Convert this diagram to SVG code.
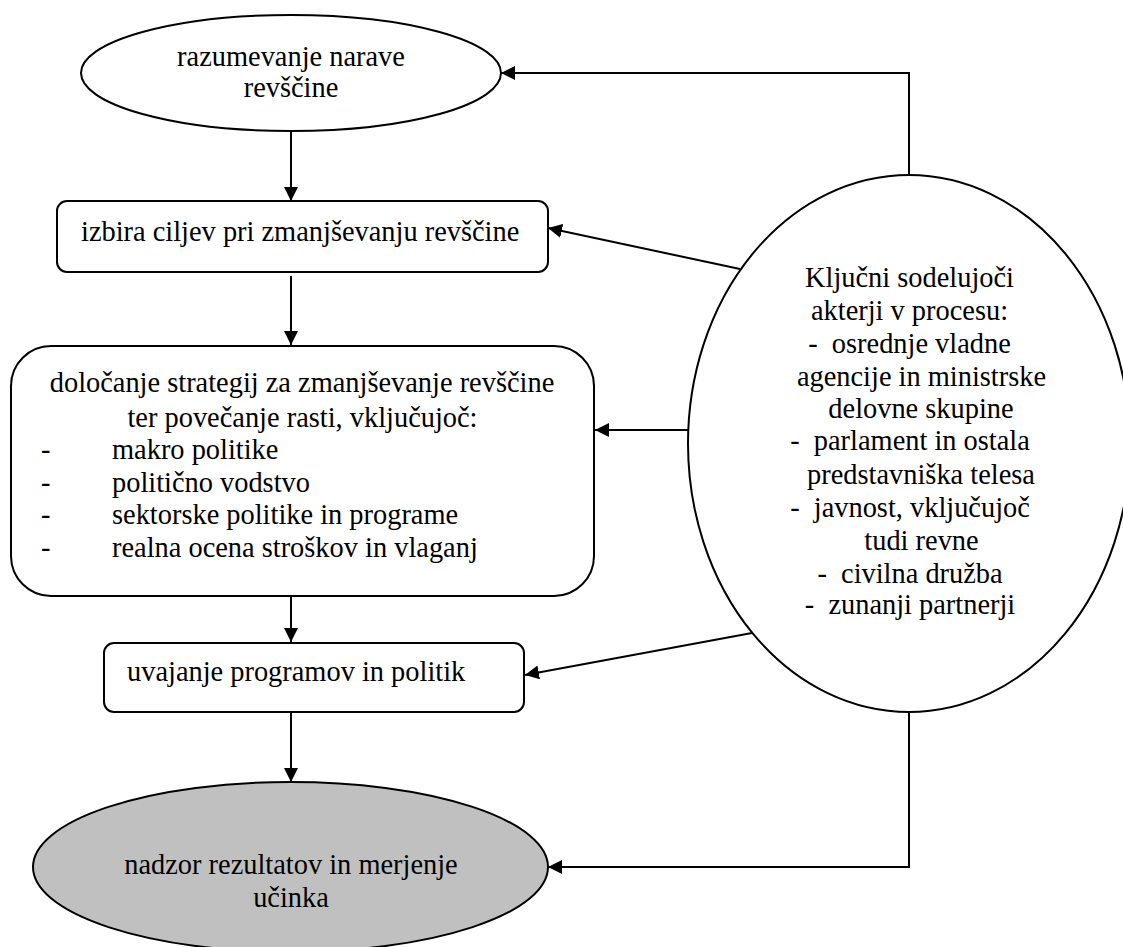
<svg xmlns="http://www.w3.org/2000/svg" width="1123" height="947" viewBox="0 0 1123 947">
<style>
  .shape { fill: #ffffff; stroke: #000000; stroke-width: 2; }
  .grey { fill: #c0c0c0; }
  .t { font-family: "Liberation Serif", "Times New Roman", serif; font-size: 28.4px; fill: #000000; }
  .c { text-anchor: middle; }
  .conn { fill: none; stroke: #000000; stroke-width: 2; marker-end: url(#arrow); }
</style>
<defs>
  <marker id="arrow" markerUnits="userSpaceOnUse" markerWidth="15" markerHeight="15" refX="14" refY="7" orient="auto">
    <path d="M0,0 L14,7 L0,14 Z" fill="#000000"/>
  </marker>
</defs>
<rect width="1123" height="947" fill="#ffffff"/>

<g id="node-razumevanje">
  <ellipse class="shape" cx="291" cy="73" rx="210" ry="58"/>
  <text class="t c" x="291" y="66">razumevanje narave</text>
  <text class="t c" x="291" y="97">revščine</text>
</g>

<g id="node-izbira">
  <rect class="shape" x="57" y="201" width="491" height="71" rx="10" ry="10"/>
  <text class="t" x="81" y="241">izbira ciljev pri zmanjševanju revščine</text>
</g>

<g id="node-dolocanje">
  <rect class="shape" x="11" y="346" width="583" height="250" rx="40" ry="40"/>
  <text class="t c" x="302" y="392">določanje strategij za zmanjševanje revščine</text>
  <text class="t c" x="302.5" y="427">ter povečanje rasti, vključujoč:</text>
  <text class="t" x="41" y="459">-</text>
  <text class="t" x="112" y="459">makro politike</text>
  <text class="t" x="41" y="492">-</text>
  <text class="t" x="112" y="492">politično vodstvo</text>
  <text class="t" x="41" y="524">-</text>
  <text class="t" x="112" y="524">sektorske politike in programe</text>
  <text class="t" x="41" y="557">-</text>
  <text class="t" x="112" y="557">realna ocena stroškov in vlaganj</text>
</g>

<g id="node-uvajanje">
  <rect class="shape" x="104" y="643" width="420" height="69" rx="10" ry="10"/>
  <text class="t" x="127" y="681">uvajanje programov in politik</text>
</g>

<g id="node-nadzor">
  <ellipse class="shape grey" cx="290.5" cy="867" rx="257.5" ry="85"/>
  <text class="t c" x="291" y="874">nadzor rezultatov in merjenje</text>
  <text class="t c" x="291" y="907">učinka</text>
</g>

<g id="node-akterji">
  <ellipse class="shape" cx="909" cy="443.5" rx="221" ry="268.5"/>
  <text class="t c" x="909.5" y="287">Ključni sodelujoči</text>
  <text class="t c" x="909.5" y="320">akterji v procesu:</text>
  <text class="t c" x="909.5" y="353" xml:space="preserve">-  osrednje vladne</text>
  <text class="t c" x="921.5" y="386">agencije in ministrske</text>
  <text class="t c" x="921" y="418">delovne skupine</text>
  <text class="t c" x="910" y="450" xml:space="preserve">-  parlament in ostala</text>
  <text class="t c" x="921" y="484">predstavniška telesa</text>
  <text class="t c" x="910" y="517" xml:space="preserve">-  javnost, vključujoč</text>
  <text class="t c" x="921.5" y="550">tudi revne</text>
  <text class="t c" x="910" y="583" xml:space="preserve">-  civilna družba</text>
  <text class="t c" x="910" y="614" xml:space="preserve">-  zunanji partnerji</text>
</g>

<g id="connectors">
  <path class="conn" d="M291,131 V201"/>
  <path class="conn" d="M291,276 V345"/>
  <path class="conn" d="M291,596 V642"/>
  <path class="conn" d="M291,712 V782"/>
  <path class="conn" d="M909,175 V73 H501"/>
  <path class="conn" d="M909,712 V867 H548"/>
  <path class="conn" d="M740,269 L548,228"/>
  <path class="conn" d="M688,430 L595,430"/>
  <path class="conn" d="M752,633 L525,675"/>
</g>
</svg>
